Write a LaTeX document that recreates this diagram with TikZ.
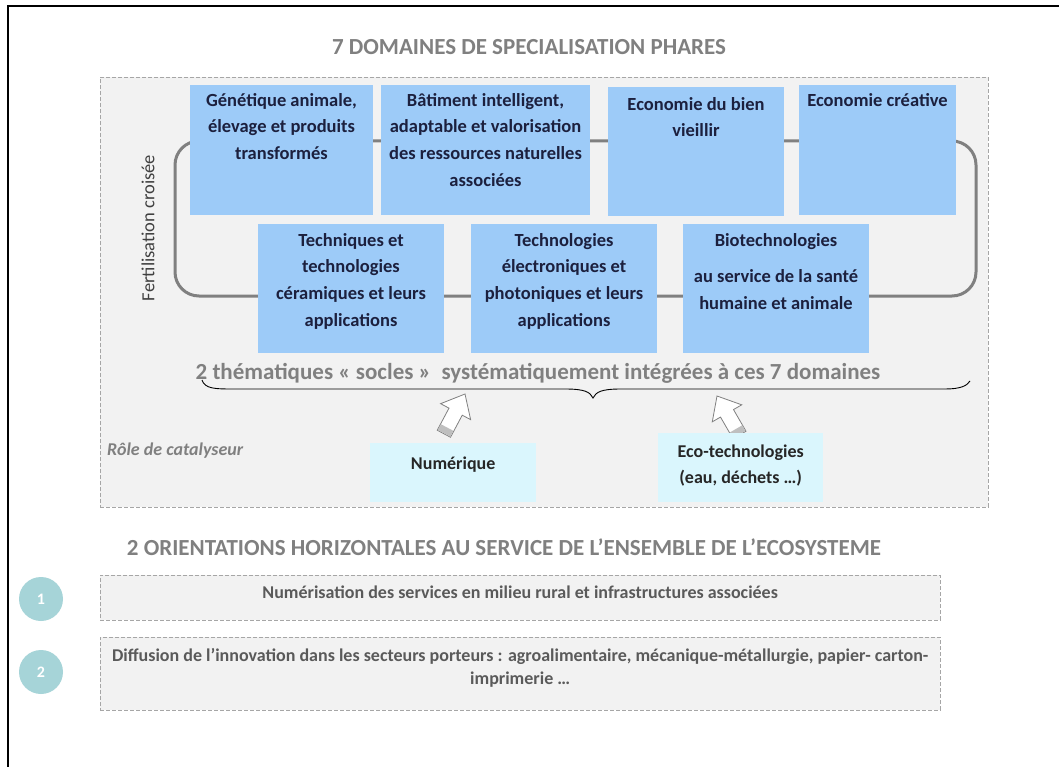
\documentclass[tikz,border=0pt]{standalone}
\usepackage{fontspec}
\setmainfont{Carlito}
\usetikzlibrary{positioning}

\definecolor{domblue}{RGB}{157,203,248}
\definecolor{domink}{RGB}{28,32,62}
\definecolor{titlegray}{RGB}{128,128,128}
\definecolor{panelgray}{RGB}{242,242,242}
\definecolor{socleblue}{RGB}{218,246,253}
\definecolor{pastillecol}{RGB}{166,212,216}
\definecolor{orientink}{RGB}{90,90,90}

\tikzset{
  dombox/.style={fill=domblue, anchor=north west, inner sep=0pt, outer sep=0pt},
  domtext/.style={text=domink, font=\bfseries\fontsize{18.5}{26.7}\selectfont, align=center, inner sep=0pt},
  heading/.style={text=titlegray, font=\bfseries\fontsize{23}{27}\selectfont, inner sep=0pt},
  panel/.style={draw=gray!70, dash pattern=on 4pt off 2pt, fill=panelgray, anchor=north west, inner sep=0pt},
  soclebox/.style={fill=socleblue, anchor=north west, inner sep=0pt},
  orient/.style={text=orientink, font=\bfseries\fontsize{18}{23}\selectfont, align=center, inner sep=0pt},
  pastille/.style={circle, fill=pastillecol, minimum size=44pt, inner sep=0pt, text=white, font=\bfseries\fontsize{16}{18}\selectfont},
  blockarrow/.style={draw=gray, fill=white, line width=0.8pt}
}

\begin{document}
\begin{tikzpicture}[x=1pt,y=-1pt]
  \useasboundingbox (0,0) rectangle (1059,767);
  \fill[white] (0,0) rectangle (1059,767);
  \draw[line width=1.5pt] (8,767) -- (8,6) -- (1059,6);

  % domaines
  \node[heading] (titre) at (529,47) {7 DOMAINES DE SPECIALISATION PHARES};
  \node[panel, minimum width=888pt, minimum height=430pt] (cadre) at (100,77) {};
  \draw[titlegray, line width=3pt, rounded corners=24pt] (175,141) rectangle (976,296);
  \node[rotate=90, text=black!75, font=\fontsize{18.5}{22}\selectfont, inner sep=0pt] (fertil) at (148,228) {Fertilisation croisée};

  \node[dombox, minimum width=183pt, minimum height=130pt] (d1) at (190,85) {};
  \node[dombox, minimum width=209pt, minimum height=130pt] (d2) at (381,85) {};
  \node[dombox, minimum width=176pt, minimum height=129pt] (d3) at (608,87) {};
  \node[dombox, minimum width=157pt, minimum height=130pt] (d4) at (799,85) {};
  \node[dombox, minimum width=186pt, minimum height=129pt] (d5) at (258,224) {};
  \node[dombox, minimum width=186pt, minimum height=129pt] (d6) at (471,224) {};
  \node[dombox, minimum width=186pt, minimum height=129pt] (d7) at (683,224) {};

  \node[domtext, below=8pt of d1.north] (t1) {Génétique animale,\\élevage et produits\\transformés};
  \node[domtext, below=8pt of d2.north] (t2) {Bâtiment intelligent,\\adaptable et valorisation\\des ressources naturelles\\associées};
  \node[domtext, below=10pt of d3.north] (t3) {Economie du bien\\vieillir};
  \node[domtext, below=8pt of d4.north] (t4) {Economie créative};
  \node[domtext, below=9pt of d5.north] (t5) {Techniques et\\technologies\\céramiques et leurs\\applications};
  \node[domtext, below=9pt of d6.north] (t6) {Technologies\\électroniques et\\photoniques et leurs\\applications};
  \node[domtext, below=9pt of d7.north] (t7) {Biotechnologies\\[10pt]au service de la santé\\humaine et animale};

  % socles
  \node[heading] (socle) at (538,373) {2 thématiques « socles »\ \ systématiquement intégrées à ces 7 domaines};
  \draw[line width=0.9pt] (202,380) .. controls (205,389) and (215,389) .. (235,389) -- (565,389)
    .. controls (585,389) and (590,392) .. (593,398) .. controls (596,392) and (601,389) .. (621,389)
    -- (945,389) .. controls (960,389) and (967,386) .. (970,381);

  \begin{scope}[shift={(465,394)}, rotate=62]
    \draw[blockarrow] (0,0) -- (-20,-17) -- (-20,-7.5) -- (-45,-7.5) -- (-45,7.5) -- (-20,7.5) -- (-20,17) -- cycle;
    \fill[gray!50] (-44.5,-7.1) rectangle (-38,7.1);
  \end{scope}
  \begin{scope}[shift={(717,396)}, rotate=120]
    \draw[blockarrow] (0,0) -- (-20,-17) -- (-20,-7.5) -- (-45,-7.5) -- (-45,7.5) -- (-20,7.5) -- (-20,17) -- cycle;
    \fill[gray!50] (-44.5,-7.1) rectangle (-38,7.1);
  \end{scope}

  \node[font=\bfseries\itshape\fontsize{18}{22}\selectfont, text=gray, anchor=west, inner sep=0pt] (role) at (107,451) {Rôle de catalyseur};
  \node[soclebox, minimum width=166pt, minimum height=59pt] (num) at (370,443) {};
  \node[soclebox, minimum width=165pt, minimum height=69pt] (eco) at (658,433) {};
  \node[domtext, text=black!85, font=\bfseries\fontsize{18}{26}\selectfont, below=14pt of num.north] (tnum) {Numérique};
  \node[domtext, text=black!85, font=\bfseries\fontsize{18}{26}\selectfont, below=12pt of eco.north] (teco) {Eco-technologies\\(eau, déchets …)};

  % orientations
  \node[heading] (orient) at (504,547) {2 ORIENTATIONS HORIZONTALES AU SERVICE DE L’ENSEMBLE DE L’ECOSYSTEME};
  \node[panel, minimum width=840pt, minimum height=45pt] (o1) at (100,575) {};
  \node[panel, minimum width=840pt, minimum height=73pt] (o2) at (100,637) {};
  \node[orient] (to1) at ([yshift=5pt]o1.center) {Numérisation des services en milieu rural et infrastructures associées};
  \node[orient, below=11pt of o2.north] (to2) {Diffusion de l’innovation dans les secteurs porteurs : agroalimentaire, mécanique-métallurgie, papier- carton-\\imprimerie …};
  \node[pastille] (p1) at (41,599) {1};
  \node[pastille] (p2) at (41,672) {2};
\end{tikzpicture}
\end{document}
